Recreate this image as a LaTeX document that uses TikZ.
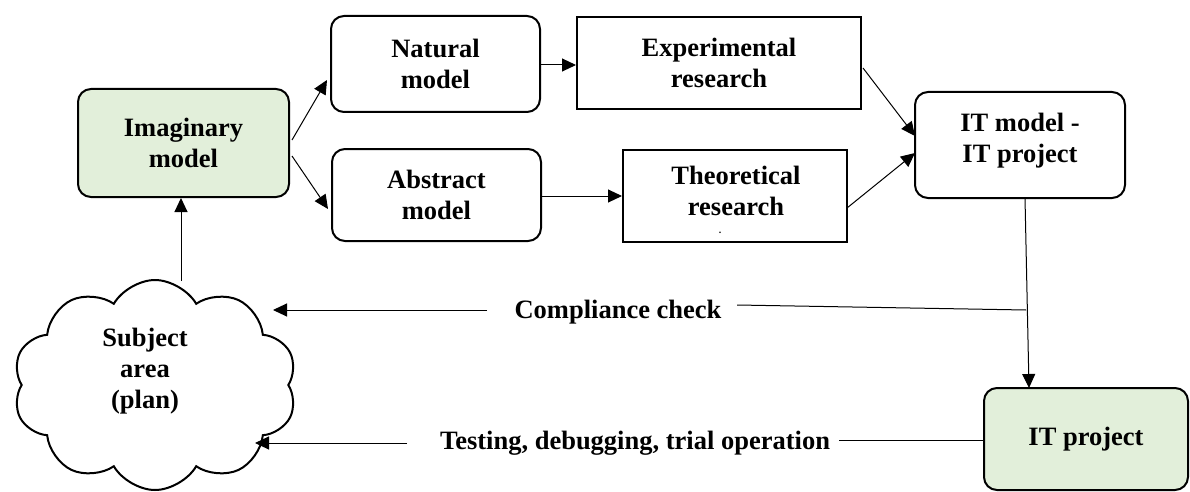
\documentclass[tikz,border=0pt]{standalone}
\usepackage{fontspec}
\setmainfont{Liberation Serif}
\usetikzlibrary{arrows.meta,shapes.symbols}

\definecolor{boxgreen}{HTML}{E2EFDA}

\tikzset{
  lbl/.style={font=\fontsize{26.5}{31}\selectfont\bfseries, align=center, inner sep=0pt},
  roundbox/.style={lbl, draw, line width=2pt, rounded corners=13pt},
  squarebox/.style={lbl, draw, line width=2pt},
  greenbox/.style={roundbox, fill=boxgreen},
  link/.style={line width=1pt},
  arrowlink/.style={link, -{Triangle[length=14pt,width=13pt]}},
}

\begin{document}
\begin{tikzpicture}[x=1pt, y=-1pt]
  \path[use as bounding box] (0,0) rectangle (1190,492);

  % blocks
  \node[greenbox, minimum width=211pt, minimum height=108pt] (imag) at (183.5,143) {Imaginary\\model};
  \node[roundbox, minimum width=209pt, minimum height=96pt] (natural) at (435.5,64) {Natural\\model};
  \node[roundbox, minimum width=209pt, minimum height=92pt] (abstract) at (436.5,195) {Abstract\\model};
  \node[squarebox, minimum width=284pt, minimum height=92pt] (exper) at (719,63) {Experimental\\research};
  \node[squarebox, minimum width=224pt, minimum height=92pt] (theor) at (735,196) {};
  \node[lbl] (theortext) at (736,191) {Theoretical\\research};
  \node[lbl, font=\fontsize{10}{10}\selectfont\bfseries] (theordot) at (720,233) {.};
  \node[roundbox, minimum width=210pt, minimum height=106pt] (itmodel) at (1020,145) {};
  \node[lbl] (itmodeltext) at (1020,141) {IT model -\\IT project};
  \node[greenbox, minimum width=204pt, minimum height=102pt] (itproj) at (1086,439) {IT project};

  % subject area cloud
  \node[cloud, draw, line width=2pt, cloud puffs=10, cloud puff arc=120, aspect=1.35,
        minimum width=284pt, minimum height=210pt, inner sep=0pt] (cloud) at (155,385) {};
  \node[lbl] (cloudtext) at (145,371) {Subject\\area\\(plan)};

  % feedback labels
  \node[lbl] (check) at (618,312) {Compliance check};
  \node[lbl] (testing) at (635,443) {Testing, debugging, trial operation};

  % junction points on the feedback lines
  \coordinate (natin) at (327,80);
  \coordinate (absin) at (328,209);
  \coordinate (imagup) at (292,140);
  \coordinate (imagdn) at (292,156);
  \coordinate (expout) at (863,68);
  \coordinate (itin1) at (915,136);
  \coordinate (theout) at (847,208);
  \coordinate (itin2) at (915,153);
  \coordinate (itdown) at (1025,198);
  \coordinate (itprojin) at (1029,388);
  \coordinate (checkjoin) at (1026,310);
  \coordinate (checkright) at (737,305);
  \coordinate (checkleft) at (487,310);
  \coordinate (cloudin1) at (273,310);
  \coordinate (testright) at (839,440);
  \coordinate (testleft) at (407,443);
  \coordinate (cloudin2) at (255,443);
  \coordinate (cloudtop) at (181,281);

  % forward connectors
  \draw[arrowlink] (imagup) -- (natin);
  \draw[arrowlink] (imagdn) -- (absin);
  \draw[arrowlink] (natural.east |- 0,65) -- (exper.west |- 0,65);
  \draw[arrowlink] (abstract.east |- 0,196) -- (theor.west |- 0,196);
  \draw[arrowlink] (expout) -- (itin1);
  \draw[arrowlink] (theout) -- (itin2);
  \draw[arrowlink] (itdown) -- (itprojin);
  \draw[arrowlink] (cloudtop) -- (imag.south -| cloudtop);

  % feedback connectors
  \draw[link] (checkjoin) -- (checkright);
  \draw[arrowlink] (checkleft) -- (cloudin1);
  \draw[link] (itproj.west |- testright) -- (testright);
  \draw[arrowlink] (testleft) -- (cloudin2);
\end{tikzpicture}
\end{document}
